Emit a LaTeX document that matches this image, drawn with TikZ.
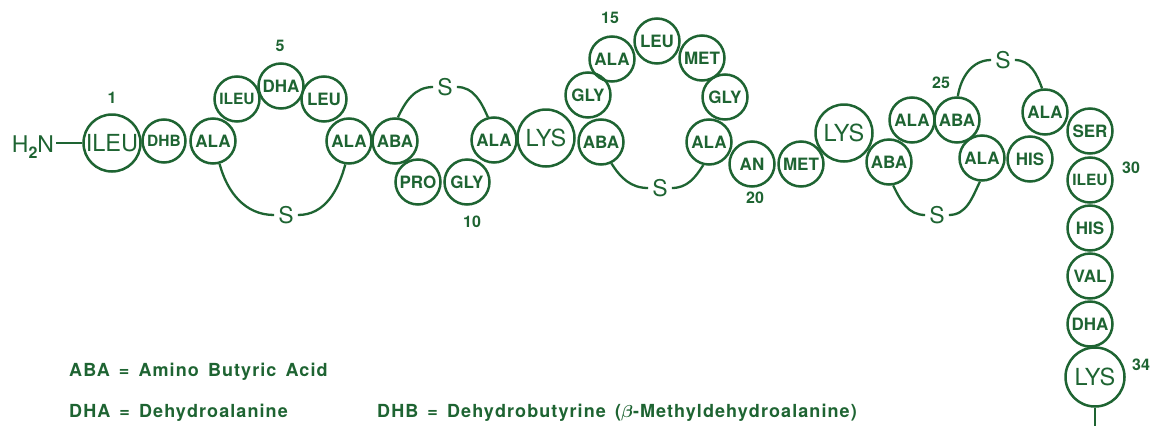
\documentclass[tikz,border=0pt]{standalone}
\usepackage{amsmath}
\usepackage{fontspec}
\setmainfont{TeX Gyre Heros}
\newfontfamily\legendfont[LetterSpace=6,WordSpace=1.5]{TeX Gyre Heros}
\definecolor{dg}{RGB}{30,100,50}
\begin{document}
\begin{tikzpicture}[x=1pt,y=1pt,
  res/.style={circle, draw=dg, line width=2.5pt, minimum size=45pt, inner sep=0pt,
    text=dg, font=\bfseries\fontsize{17}{17}\selectfont},
  narrow/.style={font=\bfseries\fontsize{15.5}{15.5}\selectfont},
  big/.style={res, minimum size=57pt, font=\fontsize{23.5}{23.5}\selectfont},
  num/.style={text=dg, font=\bfseries\fontsize{16}{16}\selectfont},
  sul/.style={text=dg, inner sep=4pt, font=\fontsize{23}{23}\selectfont},
  link/.style={draw=dg, line width=2.3pt},
  legend/.style={text=dg, anchor=west, inner sep=0pt, font=\legendfont\bfseries\fontsize{18}{18}\selectfont}]
\useasboundingbox (0,0) rectangle (1154,-426);
% residues
\node[big] (r1) at (112,-143) {ILEU};
\node[res, narrow, minimum size=43pt] (r2) at (164,-141) {DHB};
\node[res] (r3) at (213,-141) {ALA};
\node[res, narrow] (r4) at (237,-99) {ILEU};
\node[res] (r5) at (281,-86) {DHA};
\node[res] (r6) at (324,-99) {LEU};
\node[res] (r7) at (349,-141) {ALA};
\node[res] (r8) at (395,-141) {ABA};
\node[res] (r9) at (418,-182) {PRO};
\node[res] (r10) at (467,-182) {GLY};
\node[res] (r11) at (494,-140) {ALA};
\node[big] (r12) at (546,-138) {LYS};
\node[res] (r13) at (601,-142) {ABA};
\node[res] (r14) at (588,-95) {GLY};
\node[res] (r15) at (612,-59) {ALA};
\node[res] (r16) at (657,-41) {LEU};
\node[res] (r17) at (702,-58) {MET};
\node[res] (r18) at (725,-97) {GLY};
\node[res] (r19) at (709,-142) {ALA};
\node[res] (r20) at (752,-164) {AN};
\node[res] (r21) at (801,-164) {MET};
\node[big] (r22) at (844,-133) {LYS};
\node[res] (r23) at (889,-162) {ABA};
\node[res] (r24) at (912,-120) {ALA};
\node[res] (r25) at (957,-120) {ABA};
\node[res] (r26) at (982,-158) {ALA};
\node[res] (r27) at (1030,-159) {HIS};
\node[res] (r28) at (1045,-112) {ALA};
\node[res] (r29) at (1090,-131) {SER};
\node[res, narrow] (r30) at (1090,-180) {ILEU};
\node[res] (r31) at (1090,-228) {HIS};
\node[res] (r32) at (1090,-276) {VAL};
\node[res] (r33) at (1090,-324) {DHA};
\node[big, minimum size=59pt] (r34) at (1095,-377) {LYS};
% numbers
\node[num] (n1) at (112,-98) {1};
\node[num] (n5) at (280,-46) {5};
\node[num] (n10) at (472,-222) {10};
\node[num] (n15) at (610,-18) {15};
\node[num] (n20) at (755,-198) {20};
\node[num] (n25) at (941,-83) {25};
\node[num] (n30) at (1131,-168) {30};
\node[num] (n34) at (1141,-365) {34};
% sulfur bridges
\node[sul] (s1) at (286,-215) {S};
\node[sul] (s2) at (445,-87) {S};
\node[sul] (s3) at (660,-188) {S};
\node[sul] (s4) at (1003,-60) {S};
\node[sul] (s5) at (937,-215) {S};
\draw[link] (r3.-74) to[out=-75,in=180] (s1) to[out=0,in=-105] (r7.-99);
\draw[link] (r8.83) to[out=65,in=180] (s2) to[out=0,in=114] (r11.105);
\draw[link] (r13.-64) to[out=-58,in=180] (s3) to[out=0,in=-122] (r19.-104);
\draw[link] (r25.88) to[out=81,in=180] (s4) to[out=0,in=110] (r28.97);
\draw[link] (r23.-80) to[out=-64,in=180] (s5) to[out=0,in=-116] (r26.-95);
% termini
\node[text=dg, inner sep=2pt, font=\fontsize{23}{23}\selectfont] (h2n) at (33,-147)
  {H\raisebox{-6pt}{\fontsize{16}{16}\selectfont\bfseries 2}N};
\draw[link] (h2n.east |- r1) -- (r1);
\coordinate (cend) at (1095,-426);
\draw[link] (r34) -- (cend);
% legend
\node[legend] (l1) at (69,-372) {ABA = Amino Butyric Acid};
\node[legend] (l2) at (69,-413) {DHA = Dehydroalanine};
\node[legend] (l3) at (377,-413) {DHB = Dehydrobutyrine ($\boldsymbol{\beta}$-Methyldehydroalanine)};
\end{tikzpicture}
\end{document}
